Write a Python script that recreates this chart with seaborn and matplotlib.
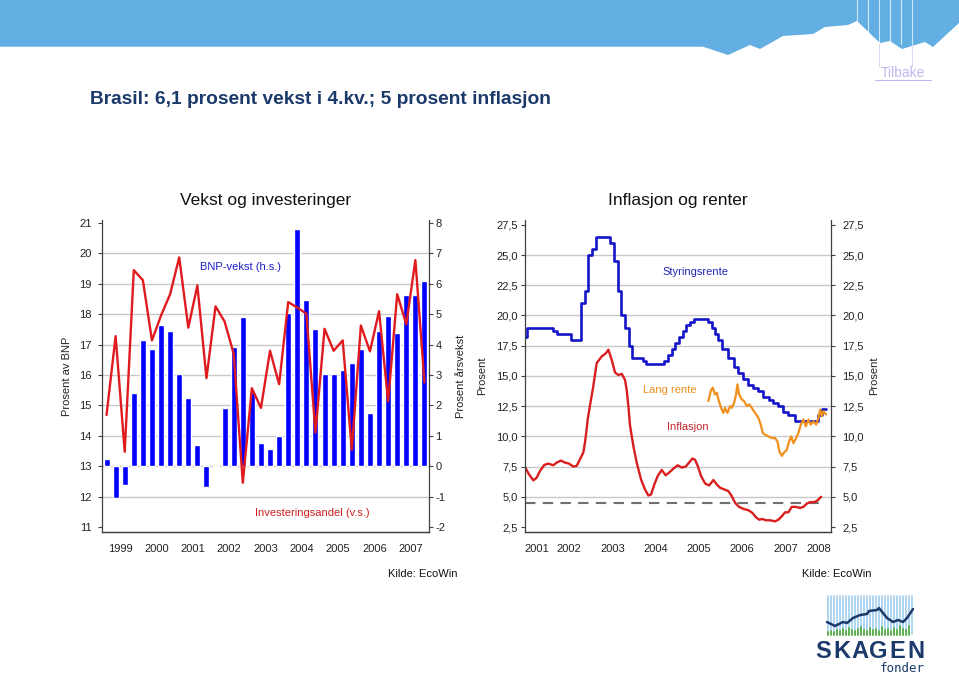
import numpy as np
import pandas as pd
import matplotlib
matplotlib.use("Agg")
import matplotlib.pyplot as plt
from matplotlib.ticker import FixedLocator, FuncFormatter, NullFormatter
from matplotlib import font_manager
import seaborn as sns

# ── Data: left panel, quarterly 1999Q1-2007Q4 ─────────────────
bnp_growth = [0.23, -1.05, -0.6, 2.4, 4.15, 3.87, 4.66, 4.44, 3.02,
              2.26, 0.71, -0.68, -0.03, 1.91, 3.93, 4.9, 2.45, 0.78,
              0.56, 1.01, 5.04, 7.8, 5.46, 4.53, 3.02, 3.05, 3.17,
              3.41, 3.85, 1.75, 4.46, 4.95, 4.4, 5.65, 5.65, 6.09]
invest_share = [14.69, 17.28, 13.48, 19.45, 19.12, 17.14, 17.96, 18.66, 19.87,
                17.56, 18.95, 15.9, 18.26, 17.76, 16.7, 12.46, 15.57, 14.92,
                16.8, 15.7, 18.4, 18.22, 18.02, 14.11, 17.52, 16.8, 17.14,
                13.54, 17.63, 16.78, 18.1, 15.13, 18.66, 17.67, 19.78, 15.76]
left_years = list(range(1999, 2008))

# ── Data: right panel ─────────────────────────────────────────
# Styringsrente (Selic), value valid from each date
selic_t = [2001.475, 2001.51, 2002.13, 2002.21, 2002.53, 2002.76, 2002.87, 2002.94,
           2003.03, 2003.11, 2003.44, 2003.54, 2003.62, 2003.70, 2003.80, 2003.87,
           2003.95, 2004.21, 2004.28, 2004.70, 2004.79, 2004.87, 2004.95, 2005.04,
           2005.12, 2005.21, 2005.30, 2005.38, 2005.70, 2005.80, 2005.87, 2005.93,
           2006.03, 2006.18, 2006.30, 2006.41, 2006.53, 2006.64, 2006.76, 2006.87,
           2006.99, 2007.11, 2007.22, 2007.34, 2007.45, 2007.57, 2007.72, 2008.26,
           2008.34, 2008.44]
selic_v = [18.25, 19.0, 18.75, 18.5, 18.0, 21.0, 22.0, 25.0,
           25.5, 26.5, 26.0, 24.5, 22.0, 20.0, 19.0, 17.5,
           16.5, 16.25, 16.0, 16.25, 16.75, 17.25, 17.75, 18.25,
           18.75, 19.25, 19.5, 19.75, 19.5, 19.0, 18.5, 18.0,
           17.25, 16.5, 15.75, 15.25, 14.75, 14.25, 14.0, 13.75,
           13.25, 13.0, 12.75, 12.5, 12.0, 11.75, 11.25, 11.75,
           12.25, 12.25]

# Inflasjon (12m)
infl_t = [2001.474, 2001.567, 2001.667, 2001.745, 2001.822, 2001.922, 2002.015, 2002.130,
          2002.208, 2002.308, 2002.400, 2002.493, 2002.593, 2002.670, 2002.748, 2002.825,
          2002.863, 2002.902, 2002.925, 2003.002, 2003.041, 2003.134, 2003.249, 2003.350,
          2003.404, 2003.481, 2003.558, 2003.635, 2003.713, 2003.790, 2003.828, 2003.867,
          2003.905, 2003.982, 2004.059, 2004.160, 2004.252, 2004.329, 2004.391, 2004.468,
          2004.545, 2004.638, 2004.731, 2004.808, 2004.908, 2005.008, 2005.101, 2005.194,
          2005.271, 2005.348, 2005.410, 2005.471, 2005.549, 2005.641, 2005.734, 2005.834,
          2005.911, 2005.988, 2006.089, 2006.181, 2006.258, 2006.336, 2006.428, 2006.529,
          2006.644, 2006.737, 2006.814, 2006.891, 2006.968, 2007.045, 2007.146, 2007.262,
          2007.339, 2007.416, 2007.493, 2007.570, 2007.647, 2007.740, 2007.840, 2007.917,
          2007.995, 2008.072, 2008.172, 2008.249, 2008.326]
infl_v = [7.47, 6.86, 6.36, 6.58, 7.14, 7.64, 7.75, 7.61,
          7.83, 8.0, 7.83, 7.75, 7.5, 7.56, 8.11, 8.67,
          9.5, 10.6, 11.4, 13.06, 13.83, 16.06, 16.61, 16.89,
          17.17, 16.33, 15.28, 15.08, 15.17, 14.67, 13.83, 12.5,
          10.9, 9.2, 7.83, 6.44, 5.6, 5.11, 5.19, 6.03,
          6.72, 7.22, 6.78, 7.0, 7.33, 7.61, 7.42, 7.5,
          7.83, 8.17, 8.06, 7.56, 6.72, 6.11, 5.94, 6.39,
          6.03, 5.75, 5.61, 5.47, 5.06, 4.5, 4.17, 4.0,
          3.89, 3.67, 3.33, 3.11, 3.17, 3.06, 3.06, 2.97,
          3.11, 3.39, 3.72, 3.72, 4.17, 4.17, 4.08, 4.17,
          4.44, 4.56, 4.56, 4.72, 5.0]

# Lang rente
long_t = [2005.718, 2005.772, 2005.819, 2005.873, 2005.911, 2005.973, 2006.027, 2006.066,
          2006.104, 2006.158, 2006.220, 2006.258, 2006.313, 2006.359, 2006.390, 2006.428,
          2006.490, 2006.544, 2006.606, 2006.667, 2006.721, 2006.799, 2006.876, 2006.930,
          2006.976, 2007.030, 2007.107, 2007.184, 2007.262, 2007.316, 2007.362, 2007.416,
          2007.470, 2007.532, 2007.586, 2007.632, 2007.686, 2007.748, 2007.802, 2007.856,
          2007.917, 2007.971, 2008.033, 2008.087, 2008.149, 2008.211, 2008.265, 2008.303,
          2008.342, 2008.380, 2008.442]
long_v = [12.92, 13.75, 14.03, 13.47, 13.6, 12.78, 12.22, 11.94,
          12.36, 11.94, 12.5, 12.36, 12.78, 13.47, 14.3, 13.47,
          13.06, 12.92, 12.5, 12.64, 12.36, 11.94, 11.53, 10.97,
          10.28, 10.14, 10.0, 9.86, 9.86, 9.58, 8.75, 8.39,
          8.67, 8.89, 9.58, 10.0, 9.44, 9.86, 10.28, 10.97,
          11.39, 10.83, 11.39, 10.97, 11.25, 10.97, 11.53, 12.22,
          11.67, 12.08, 11.81]

infl_target = 4.5
right_years = list(range(2001, 2009))

# ── Style ─────────────────────────────────────────────────────
sns.set_theme(style="white")
plt.rcParams["font.family"] = ["Liberation Sans", "DejaVu Sans"]
plt.rcParams["axes.unicode_minus"] = False

BLUE_BAR = "#0000FF"
RED = "#E01B1F"
SEL_BLUE = "#1414C8"
ORANGE = "#F0901E"
INFL_RED = "#D81E1E"
GRID = "#C8C8C8"
SPINE = "#404040"
TXT = "#222222"

W, H = 959, 675
fig = plt.figure(figsize=(W / 100, H / 100), dpi=100)


def px_axes(x0, y0, x1, y1):
    return fig.add_axes([x0 / W, 1 - y1 / H, (x1 - x0) / W, (y1 - y0) / H])


def fig_text(x, y, s, **kw):
    fig.text(x / W, 1 - y / H, s, **kw)


# ── Decoration (banner, title, logo) ──────────────────────────
deco = fig.add_axes([0, 0, 1, 1], zorder=-5)
deco.set_xlim(0, W)
deco.set_ylim(H, 0)
deco.axis("off")
banner = [(0, 0), (0, 46.7), (703, 46.7), (728, 55), (750, 45), (760, 49), (783, 36),
          (813, 34), (825, 27), (848, 25), (857, 21), (880, 43), (890, 41), (902, 49),
          (925, 42), (933, 47), (959, 23), (959, 0)]
deco.add_patch(plt.Polygon(banner, closed=True, color="#63AFE3", lw=0))
for xv in [857, 868, 879, 890, 901, 912]:
    deco.plot([xv, xv], [0, 44], color="white", lw=0.8, alpha=0.7)
for xv in [879, 912]:
    deco.plot([xv, xv], [44, 66], color="#DCD6F2", lw=0.8)

fig_text(903, 73, "Tilbake", fontsize=10, color="#C3B6F0", ha="center", va="center")
deco.plot([875, 931], [80, 80], color="#C3B6F0", lw=0.8)

names = {f.name for f in font_manager.fontManager.ttflist}
if "Liberation Sans Narrow" in names:
    title_fam, title_size = ["Liberation Sans Narrow"], 15.5
else:
    title_fam, title_size = ["Liberation Sans"], 13.8
fig_text(90, 100, "Brasil: 6,1 prosent vekst i 4.kv.; 5 prosent inflasjon",
         fontsize=title_size, fontweight="bold", color="#1B3A6B",
         family=title_fam, ha="left", va="center")

# logo
for xv in np.arange(828, 913, 3.0):
    deco.plot([xv, xv], [596, 634], color="#9CCBEE", lw=1.4, alpha=0.8)
logo_line = [(827, 622), (835, 626), (843, 622), (847, 623), (853, 618), (860, 615),
             (867, 614), (869, 611), (877, 610), (879, 608), (887, 618), (890, 620),
             (893, 622), (898, 620), (903, 622), (907, 618), (913, 609)]
deco.plot(*zip(*logo_line), color="#1B3A6B", lw=1.8)
green_h = [3, 4, 3, 5, 4, 6, 4, 7, 5, 4, 6, 8, 5, 4, 7, 5, 6, 4, 8, 5, 6, 4, 7, 5, 9, 6, 5, 9]
for xv, hh in zip(np.arange(828, 913, 3.0), green_h):
    deco.plot([xv, xv], [635, 635 - hh], color="#5DB04E", lw=1.4)
for i, ch in enumerate("SKAGEN"):
    fig_text(823 + i * 18.5, 652, ch, fontsize=17, fontweight="bold", color="#1B3A6B",
             ha="center", va="center")
fig_text(925, 669, "fonder", fontsize=9, color="#1B3A6B", family=["DejaVu Sans Mono"],
         ha="right", va="center")


def style_ticks(ax_left, ax_right, left_pad, right_pad):
    ax_left.tick_params(axis="y", which="major", direction="out", length=3, width=0.8,
                        pad=left_pad, labelsize=8, labelcolor=TXT, color=SPINE)
    ax_right.tick_params(axis="y", which="major", direction="out", length=3, width=0.8,
                         pad=right_pad, labelsize=8, labelcolor=TXT, color=SPINE)
    ax_left.tick_params(axis="x", which="major", direction="out", length=4, width=0.8,
                        color=SPINE, labelbottom=False)
    ax_left.tick_params(axis="x", which="minor", length=0, pad=9, labelsize=8,
                        labelcolor=TXT)
    for a in (ax_left, ax_right):
        a.spines["top"].set_visible(False)
        for s in ("left", "right", "bottom"):
            a.spines[s].set_color(SPINE)
            a.spines[s].set_linewidth(0.9)
    ax_right.spines["left"].set_visible(False)
    ax_left.spines["right"].set_visible(False)


def interior_grid(ax):
    ax.grid(axis="y", color=GRID, lw=1.0)
    ax.grid(axis="x", visible=False)
    lines = ax.get_ygridlines()
    lines[0].set_visible(False)
    lines[-1].set_visible(False)
    ax.set_axisbelow(True)


# ── Left panel: Vekst og investeringer ────────────────────────
quarters = pd.period_range("1999Q1", "2007Q4", freq="Q")
xq = np.asarray(quarters.year + (quarters.quarter - 0.5) / 4, dtype=float)

ax_l = px_axes(102, 220, 429, 532)
ax_r = ax_l.twinx()

sns.barplot(x=xq, y=bnp_growth, native_scale=True, width=0.66, color=BLUE_BAR,
            saturation=1, errorbar=None, ax=ax_r, zorder=2)
sns.lineplot(x=xq, y=invest_share, color=RED, lw=1.7, estimator=None, ax=ax_l)

ax_l.set_zorder(ax_r.get_zorder() + 1)
ax_l.patch.set_visible(False)

ax_l.set_ylim(10.84, 21.1)
ax_r.set_ylim(-2.16, 8.1)
ax_l.set_xlim(left_years[0], left_years[-1] + 1)
ax_l.yaxis.set_major_locator(FixedLocator(list(range(11, 22))))
ax_r.yaxis.set_major_locator(FixedLocator(list(range(-2, 9))))
ax_l.xaxis.set_major_locator(FixedLocator(left_years))
ax_l.xaxis.set_minor_locator(FixedLocator([y + 0.5 for y in left_years]))
ax_l.xaxis.set_minor_formatter(FuncFormatter(lambda v, p: f"{int(v)}"))
ax_l.xaxis.set_major_formatter(NullFormatter())
style_ticks(ax_l, ax_r, 4.5, 1.5)
interior_grid(ax_r)
ax_l.grid(False)
ax_l.set_xlabel("")
ax_l.set_ylabel("Prosent av BNP", fontsize=8, color=TXT)
ax_l.yaxis.set_label_coords(-0.092, 0.5)
ax_r.set_ylabel("Prosent årsvekst", fontsize=8, color=TXT)
ax_r.yaxis.set_label_coords(1.083, 0.5)

ax_l.text(0.425, 0.85, "BNP-vekst (h.s.)", transform=ax_l.transAxes, fontsize=8,
          color="#1E1EC8", ha="center", va="center")
ax_l.text(0.643, 0.061, "Investeringsandel (v.s.)", transform=ax_l.transAxes,
          fontsize=8, color="#D02020", ha="center", va="center")
fig_text(265.5, 200, "Vekst og investeringer", fontsize=12.5, color="#111111",
         ha="center", va="center")
fig_text(458, 574, "Kilde: EcoWin", fontsize=8, color="#111111", ha="right", va="center")

# ── Right panel: Inflasjon og renter ──────────────────────────
ax2 = px_axes(525, 220, 831, 532)
ax2r = ax2.twinx()
x0, x1 = 2001.475, 2008.555

sns.lineplot(x=infl_t, y=infl_v, color=INFL_RED, lw=1.7, estimator=None, ax=ax2)
sns.lineplot(x=selic_t, y=selic_v, color=SEL_BLUE, lw=1.9, estimator=None,
             drawstyle="steps-post", ax=ax2)
sns.lineplot(x=long_t, y=long_v, color=ORANGE, lw=1.6, estimator=None, ax=ax2)
ax2.hlines(infl_target, x0, max(infl_t) + 0.1, colors="#707070", lw=1.5,
           linestyles=(0, (5, 3.5)), zorder=1)

yt = [2.5 * k for k in range(1, 12)]
for a in (ax2, ax2r):
    a.set_ylim(2.09, 27.9)
    a.yaxis.set_major_locator(FixedLocator(yt))
    a.yaxis.set_major_formatter(FuncFormatter(lambda v, p: f"{v:.1f}".replace(".", ",")))
ax2.set_xlim(x0, x1)
mids = [(max(y, x0) + min(y + 1, x1)) / 2 for y in right_years]
ax2.xaxis.set_major_locator(FixedLocator(right_years[1:]))
ax2.xaxis.set_minor_locator(FixedLocator(mids))
ax2.xaxis.set_minor_formatter(FuncFormatter(lambda v, p: f"{int(v)}"))
ax2.xaxis.set_major_formatter(NullFormatter())
style_ticks(ax2, ax2r, 2, 5)
interior_grid(ax2)
ax2r.grid(False)
ax2.set_xlabel("")
ax2.set_ylabel("Prosent", fontsize=8, color=TXT)
ax2.yaxis.set_label_coords(-0.124, 0.5)
ax2r.set_ylabel("Prosent", fontsize=8, color=TXT)
ax2r.yaxis.set_label_coords(1.124, 0.5)

ax2.text(0.556, 0.833, "Styringsrente", transform=ax2.transAxes, fontsize=8,
         color="#2525B0", ha="center", va="center")
ax2.text(0.474, 0.454, "Lang rente", transform=ax2.transAxes, fontsize=8,
         color="#EE8F1F", ha="center", va="center")
ax2.text(0.533, 0.337, "Inflasjon", transform=ax2.transAxes, fontsize=8,
         color="#C1272D", ha="center", va="center")
fig_text(678, 200, "Inflasjon og renter", fontsize=12.5, color="#111111",
         ha="center", va="center")
fig_text(871, 574, "Kilde: EcoWin", fontsize=8, color="#111111", ha="right", va="center")

fig.savefig("out.png", dpi=100, facecolor="white")
